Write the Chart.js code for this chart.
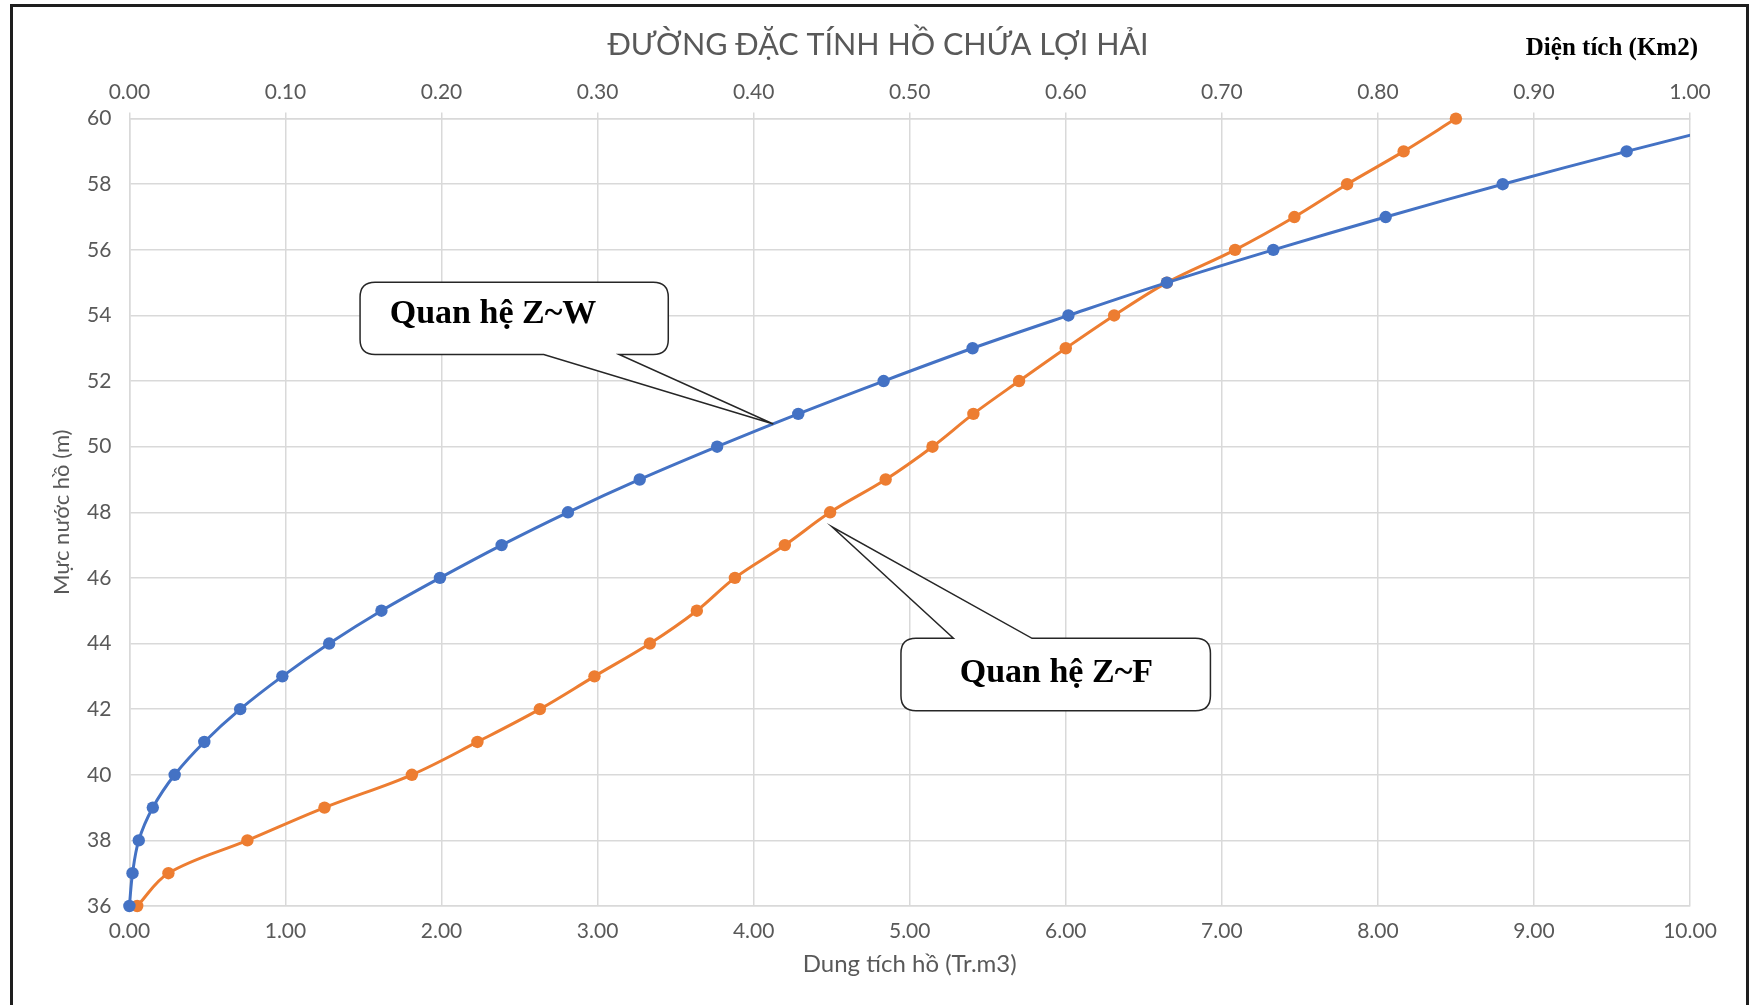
<!DOCTYPE html>
<html><head><meta charset="utf-8">
<script src="https://cdn.jsdelivr.net/npm/chart.js@4.4.0/dist/chart.umd.min.js"></script>
<style>
html,body{margin:0;padding:0;background:#fff;overflow:hidden;}
#wrap{position:relative;width:1754px;height:1005px;}
#frame{position:absolute;left:10px;top:4px;width:1733px;height:1100px;border:3px solid #1e1e1e;pointer-events:none;}
canvas{position:absolute;left:0;top:0;}
</style></head><body>
<div id="wrap"><canvas id="c" width="1754" height="1005"></canvas><div id="frame"></div></div>
<script>
// ---- Data ----
const levels = [36,37,38,39,40,41,42,43,44,45,46,47,48,49,50,51,52,53,54,55,56,57,58,59,60];
// Dung tích hồ W (Tr.m3) - bottom axis
const volume = [0.00,0.02,0.06,0.15,0.29,0.48,0.71,0.98,1.28,1.615,1.99,2.385,2.81,3.27,3.766,4.286,4.833,5.403,6.017,6.648,7.33,8.05,8.80,9.594,10.42];
// Diện tích F (Km2) - top axis
const area = [0.005,0.025,0.0756,0.125,0.181,0.223,0.263,0.298,0.3335,0.3636,0.388,0.420,0.449,0.4846,0.5146,0.5408,0.5701,0.600,0.631,0.6648,0.7085,0.7465,0.7803,0.8165,0.850];

const seriesNames = ['Quan hệ Z~W', 'Quan hệ Z~F'];
const chartTitle = 'ĐƯỜNG ĐẶC TÍNH HỒ CHỨA LỢI HẢI';
const topAxisTitle = 'Diện tích (Km2)';
const bottomAxisTitle = 'Dung tích hồ (Tr.m3)';
const leftAxisTitle = 'Mực nước hồ (m)';
const volumeRange = [0, 10, 1];
const areaRange = [0, 1, 0.1];
const levelRange = [36, 60, 2];

const zwPoints = levels.map((z, i) => ({x: volume[i], y: z}));
const zfPoints = levels.map((z, i) => ({x: area[i], y: z}));

// ---- Callout annotations (in data units of the volume / level axes) ----
const callouts = [
  {text: seriesNames[0], box: [1.478, 3.453, 55.01, 52.81], edge: 'bottom', base: [2.655, 3.138], tip: [4.126, 50.69], textAt: [2.33, 54.05]},
  {text: seriesNames[1], box: [4.944, 6.927, 44.16, 41.95], edge: 'top', base: [5.28, 5.784], tip: [4.502, 47.56], textAt: [5.94, 43.08]}
];

const GREY = '#595959';
const GRID = '#d9d9d9';
const FONT = 'Lato, "Open Sans", sans-serif';

const calloutPlugin = {
  id: 'callouts',
  afterDatasetsDraw(chart) {
    const xs = chart.scales.x, ys = chart.scales.y, ctx = chart.ctx;
    callouts.forEach(c => {
      const L = xs.getPixelForValue(c.box[0]), R = xs.getPixelForValue(c.box[1]);
      const T = ys.getPixelForValue(c.box[2]), B = ys.getPixelForValue(c.box[3]);
      const b1 = xs.getPixelForValue(c.base[0]), b2 = xs.getPixelForValue(c.base[1]);
      const tx = xs.getPixelForValue(c.tip[0]), ty = ys.getPixelForValue(c.tip[1]);
      const r = 15;
      ctx.save();
      ctx.beginPath();
      ctx.moveTo(L + r, T);
      if (c.edge === 'top') { ctx.lineTo(b1, T); ctx.lineTo(tx, ty); ctx.lineTo(b2, T); }
      ctx.lineTo(R - r, T);
      ctx.quadraticCurveTo(R, T, R, T + r);
      ctx.lineTo(R, B - r);
      ctx.quadraticCurveTo(R, B, R - r, B);
      if (c.edge === 'bottom') { ctx.lineTo(b2, B); ctx.lineTo(tx, ty); ctx.lineTo(b1, B); }
      ctx.lineTo(L + r, B);
      ctx.quadraticCurveTo(L, B, L, B - r);
      ctx.lineTo(L, T + r);
      ctx.quadraticCurveTo(L, T, L + r, T);
      ctx.closePath();
      ctx.fillStyle = '#ffffff';
      ctx.fill();
      ctx.lineWidth = 1.5;
      ctx.strokeStyle = '#262626';
      ctx.stroke();
      ctx.fillStyle = '#000000';
      ctx.font = 'bold 34px "Liberation Serif", "Times New Roman", serif';
      ctx.textAlign = 'center';
      ctx.textBaseline = 'middle';
      ctx.fillText(c.text, xs.getPixelForValue(c.textAt[0]), ys.getPixelForValue(c.textAt[1]));
      ctx.restore();
    });
  }
};

const textPlugin = {
  id: 'extraText',
  afterDraw(chart) {
    const ctx = chart.ctx;
    ctx.save();
    ctx.fillStyle = GREY;
    ctx.font = '30.5px ' + FONT;
    ctx.textAlign = 'center';
    ctx.textBaseline = 'middle';
    ctx.fillText(chartTitle, 878, 45);
    ctx.fillStyle = '#000000';
    ctx.font = 'bold 25px "Liberation Serif", "Times New Roman", serif';
    ctx.textAlign = 'right';
    ctx.fillText(topAxisTitle, 1698, 49);
    ctx.restore();
  }
};

new Chart(document.getElementById('c'), {
  type: 'scatter',
  data: {
    datasets: [
      {label: seriesNames[0], data: zwPoints, xAxisID: 'x', yAxisID: 'y', showLine: true,
       borderColor: '#4472C4', backgroundColor: '#4472C4', borderWidth: 3, pointRadius: 6.2,
       pointBorderWidth: 0, tension: 0.35, clip: {left: 8, top: 8, right: 0, bottom: 8}},
      {label: seriesNames[1], data: zfPoints, xAxisID: 'x2', yAxisID: 'y', showLine: true,
       borderColor: '#ED7D31', backgroundColor: '#ED7D31', borderWidth: 3, pointRadius: 6.2,
       pointBorderWidth: 0, tension: 0.35, clip: {left: 8, top: 8, right: 0, bottom: 8}}
    ]
  },
  options: {
    responsive: false,
    animation: false,
    layout: {padding: {left: 0, right: 64, top: 0, bottom: 0}},
    plugins: {legend: {display: false}, tooltip: {enabled: false}, title: {display: false}},
    scales: {
      x: {
        type: 'linear', position: 'bottom', min: volumeRange[0], max: volumeRange[1],
        ticks: {stepSize: volumeRange[2], color: GREY, font: {family: FONT, size: 21}, padding: 13,
                callback: v => Number(v).toFixed(2)},
        grid: {color: GRID, lineWidth: 1.5, drawTicks: false},
        border: {color: GRID, width: 1.5},
        title: {display: true, text: bottomAxisTitle, color: GREY, font: {family: FONT, size: 24}, padding: {top: 0, bottom: 26}},
        afterFit: s => { s.height = 99; }
      },
      x2: {
        type: 'linear', position: 'top', min: areaRange[0], max: areaRange[1],
        ticks: {stepSize: areaRange[2], color: GREY, font: {family: FONT, size: 21}, padding: 8,
                callback: v => Number(v).toFixed(2)},
        grid: {color: GRID, lineWidth: 1.5, drawOnChartArea: false, drawTicks: true, tickLength: 6},
        border: {color: GRID, width: 1.5},
        afterFit: s => { s.height = 118.6; }
      },
      y: {
        type: 'linear', position: 'left', min: levelRange[0], max: levelRange[1],
        ticks: {stepSize: levelRange[2], color: GREY, font: {family: FONT, size: 21}, padding: 18},
        grid: {color: GRID, lineWidth: 1.5, drawTicks: false},
        border: {color: GRID, width: 1.5},
        title: {display: true, text: leftAxisTitle, color: GREY, font: {family: FONT, size: 22}, padding: {top: 49, bottom: 0}},
        afterFit: s => { s.width = 129.4; }
      }
    }
  },
  plugins: [calloutPlugin, textPlugin]
});
</script></body></html>
